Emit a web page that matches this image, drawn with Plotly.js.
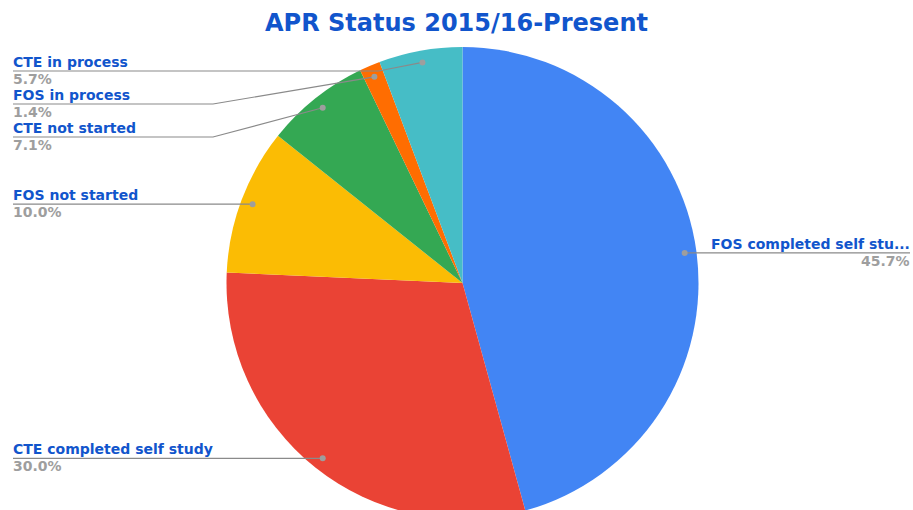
<!DOCTYPE html>
<html>
<head>
<meta charset="utf-8">
<script src="https://cdn.plot.ly/plotly-3.0.1.min.js"></script>
<style>
  html, body { margin: 0; padding: 0; background: #fff; overflow: hidden; }
  #wrap { width: 913px; height: 510px; overflow: hidden; position: relative; }
  #chart { width: 913px; height: 540px; }
</style>
</head>
<body>
<div id="wrap"><div id="chart"></div></div>
<script>
// ---- data ----
const chartTitle = 'APR Status 2015/16-Present';
const categories = ['FOS completed self study', 'CTE completed self study', 'FOS not started', 'CTE not started', 'FOS in process', 'CTE in process'];
const counts = [32, 21, 7, 5, 1, 4];
const sliceColors = ['#4285F4', '#EA4335', '#FBBC04', '#34A853', '#FF6D01', '#46BDC6'];

// ---- geometry (pixels) ----
const W = 913, H = 540;
const cx = 462.5, cy = 283, R = 236;
const X = px => px / W;
const Y = py => 1 - py / H;

const FONT = 'DejaVu Sans, Verdana, sans-serif';
const labelBlue = '#1155CC';
const pctGray = '#9E9E9E';
const lineGray = '#8a8a8a';

const total = counts.reduce((a, b) => a + b, 0);
let cum = 0;
const items = counts.map((c, i) => {
  const frac = c / total;
  const mid = (cum + frac / 2) * 2 * Math.PI;
  cum += frac;
  const k = 0.95;
  const dx = Math.sin(mid), dy = -Math.cos(mid);
  return {
    name: categories[i], frac: frac,
    dotX: cx + k * R * dx, dotY: cy + k * R * dy,
    side: dx >= 0 ? 'right' : 'left'
  };
});

function place(list) {
  list.sort((a, b) => a.dotY - b.dotY);
  let prev = -Infinity;
  list.forEach(it => {
    it.ly = Math.max(it.dotY, prev + 33, 71);
    prev = it.ly;
  });
}
const left = items.filter(d => d.side === 'left');
const right = items.filter(d => d.side === 'right');
place(left); place(right);

const shapes = [];
const annotations = [];
const pctText = f => (f * 100).toFixed(1) + '%';
const fitRight = s => s.length > 22 ? s.slice(0, 22) + '...' : s;

left.forEach(it => {
  const disp = Math.abs(it.ly - it.dotY);
  let path;
  if (disp < 1.5) {
    path = `M ${X(13)} ${Y(it.ly)} L ${X(it.dotX)} ${Y(it.ly)}`;
  } else {
    const knee = disp > 15 ? 213 : it.dotX - 44;
    path = `M ${X(13)} ${Y(it.ly)} L ${X(knee)} ${Y(it.ly)} L ${X(it.dotX)} ${Y(it.dotY)}`;
  }
  shapes.push({type: 'path', xref: 'paper', yref: 'paper', path: path, line: {color: lineGray, width: 1.2}});
  annotations.push({xref: 'paper', yref: 'paper', x: X(11), y: Y(it.ly), xanchor: 'left', yanchor: 'bottom',
    text: it.name, showarrow: false, yshift: -1, font: {family: FONT, size: 14, color: labelBlue, weight: 'bold'}});
  annotations.push({xref: 'paper', yref: 'paper', x: X(11), y: Y(it.ly), xanchor: 'left', yanchor: 'top',
    text: pctText(it.frac), showarrow: false, yshift: 2, font: {family: FONT, size: 14, color: pctGray, weight: 'bold'}});
});
right.forEach(it => {
  const path = `M ${X(it.dotX)} ${Y(it.dotY)} L ${X(910)} ${Y(it.ly)}`;
  shapes.push({type: 'path', xref: 'paper', yref: 'paper', path: path, line: {color: lineGray, width: 1.2}});
  annotations.push({xref: 'paper', yref: 'paper', x: X(912), y: Y(it.ly), xanchor: 'right', yanchor: 'bottom',
    text: fitRight(it.name), showarrow: false, yshift: -1, font: {family: FONT, size: 14, color: labelBlue, weight: 'bold'}});
  annotations.push({xref: 'paper', yref: 'paper', x: X(912), y: Y(it.ly), xanchor: 'right', yanchor: 'top',
    text: pctText(it.frac), showarrow: false, yshift: 2, font: {family: FONT, size: 14, color: pctGray, weight: 'bold'}});
});
items.forEach(it => {
  shapes.push({type: 'circle', xref: 'paper', yref: 'paper',
    x0: X(it.dotX - 3), x1: X(it.dotX + 3), y0: Y(it.dotY + 3), y1: Y(it.dotY - 3),
    fillcolor: '#9E9E9E', line: {width: 0}});
});

const trace = {
  type: 'pie',
  labels: categories,
  values: counts,
  marker: {colors: sliceColors, line: {width: 0}},
  sort: false,
  direction: 'clockwise',
  rotation: 0,
  textinfo: 'none',
  hoverinfo: 'label+percent',
  showlegend: false,
  domain: {x: [X(cx - R), X(cx + R)], y: [Y(cy + R), Y(cy - R)]}
};

const layout = {
  width: W, height: H,
  margin: {l: 0, r: 0, t: 0, b: 0},
  paper_bgcolor: '#ffffff',
  showlegend: false,
  title: {text: chartTitle, x: 0.5, xanchor: 'center', y: 1 - 23 / H, yanchor: 'middle', yref: 'container',
    font: {family: FONT, size: 24, color: labelBlue, weight: 'bold'}},
  shapes: shapes,
  annotations: annotations
};

Plotly.newPlot('chart', [trace], layout, {displayModeBar: false, staticPlot: true});
</script>
</body>
</html>
